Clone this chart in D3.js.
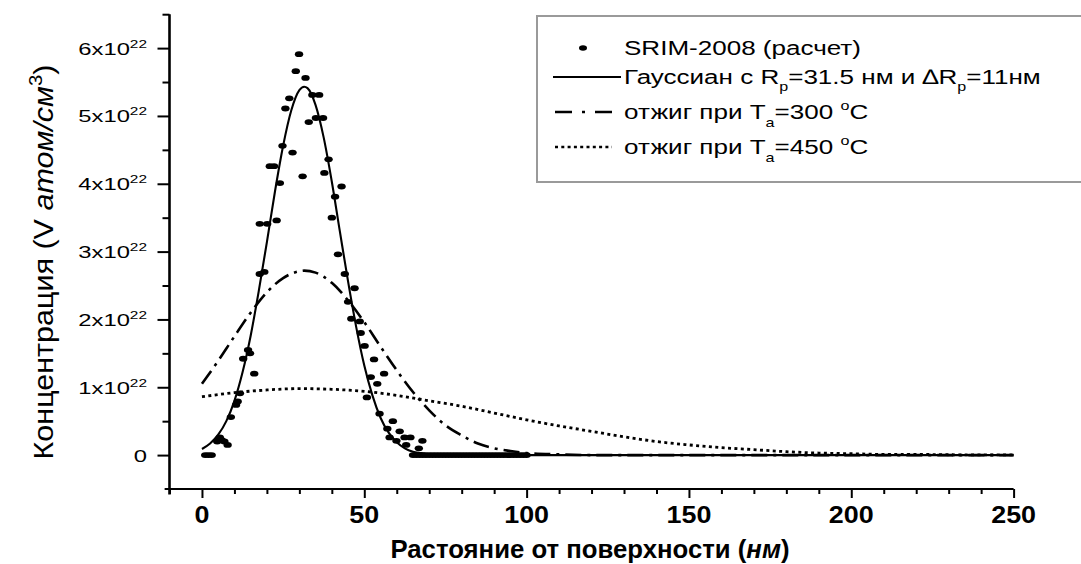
<!DOCTYPE html>
<html><head><meta charset="utf-8">
<script src="https://cdn.jsdelivr.net/npm/d3@7"></script>
<style>body{margin:0;background:#fff;overflow:hidden}svg{display:block}</style>
</head><body>
<script>
// ---- data (concentration in units of 1e22 atoms/cm^3, depth in nm) ----
const srimX = [1,2,3,4.7,5.5,6.1,6.9,7.9,8.9,10.5,11.0,11.7,12.7,14.2,14.8,16.1,17.8,19.2,17.8,20.1,20.9,22.2,23.0,24.0,24.8,25.7,26.9,27.9,28.9,29.9,31.0,31.9,32.9,34.0,35.1,36.1,37.3,37.7,39.0,40.0,41.0,41.9,43.0,44.0,45.0,46.0,47.0,48.6,48.9,50.1,50.8,52.0,53.0,54.0,54.7,56.1,57.1,57.8,58.8,59.9,60.9,62.4,62.9,64.2,66.8,67.9,
  65,66,67,68,69,70,71,72,73,74,75,76,77,78,79,80,81,82,83,84,85,86,87,88,89,90,91,92,93,94,95,96,97,98,99,100];
const srimY = [0,0,0,0.20,0.26,0.22,0.20,0.15,0.56,0.74,0.79,0.91,1.42,1.55,1.50,1.20,2.67,2.70,3.41,3.41,4.26,4.26,3.46,4.01,4.56,5.11,5.26,4.46,5.66,5.91,4.11,5.56,4.91,5.31,4.97,5.31,4.97,4.16,4.36,3.50,3.81,2.96,3.96,2.67,2.26,2.01,2.46,1.97,1.80,1.61,0.85,1.15,1.41,1.05,0.61,1.20,0.39,0.26,0.50,0.21,0.35,0.26,0.15,0.26,0.10,0.21,
  0,0,0,0,0,0,0,0,0,0,0,0,0,0,0,0,0,0,0,0,0,0,0,0,0,0,0,0,0,0,0,0,0,0,0,0];

const gaussX = [0,2.5,5,7.5,10,12.5,15,17.5,20,22.5,25,27.5,30,31.5,32.5,35,37.5,40,42.5,45,47.5,50,52.5,55,57.5,60,62.5,65,67.5,70,75,80,100,150,200,250];
const gaussY = [0.09,0.17,0.30,0.50,0.80,1.22,1.76,2.42,3.14,3.89,4.56,5.08,5.38,5.43,5.41,5.16,4.68,4.03,3.29,2.56,1.89,1.32,0.88,0.55,0.33,0.19,0.10,0.05,0.03,0.01,0.00,0,0,0,0,0];

const anneal300X = [0,5,10,15,20,25,30,31.5,35,40,45,50,55,60,65,70,75,80,85,90,95,100,110,120,150,200,250];
const anneal300Y = [1.05,1.39,1.75,2.10,2.40,2.61,2.71,2.72,2.69,2.54,2.28,1.96,1.60,1.25,0.93,0.66,0.44,0.29,0.17,0.10,0.06,0.03,0.01,0,0,0,0];

const anneal450X = [0,10,20,30,40,50,60,70,80,90,100,110,120,130,140,150,160,170,180,190,200,210,220,230,240,250];
const anneal450Y = [0.86,0.92,0.96,0.98,0.97,0.94,0.88,0.80,0.72,0.62,0.52,0.43,0.35,0.27,0.20,0.15,0.11,0.08,0.05,0.03,0.02,0.01,0.01,0.005,0.003,0.002];

const xTicks = [0,50,100,150,200,250];
const xMinor = [-10,10,20,30,40,60,70,80,90,110,120,130,140,160,170,180,190,210,220,230,240];
const yTicks = [0,1,2,3,4,5,6];
const yTickLabels = ["0","1x10","2x10","3x10","4x10","5x10","6x10"];
const yMinor = [0.5,1.5,2.5,3.5,4.5,5.5,6.5];

const W = 1081, H = 564;
const FONT = "'Liberation Sans', Arial, sans-serif";
const svg = d3.select("body").append("svg").attr("width", W).attr("height", H)
  .style("background", "#fff");

const x = d3.scaleLinear().domain([-10, 250]).range([169.5, 1013.6]);
const y = d3.scaleLinear().domain([-0.5, 6.5]).range([489, 14.2]);

// ---- curves ----
const line = d3.line().x(d => x(d[0])).y(d => y(d[1])).curve(d3.curveMonotoneX);
const zip = (a, b) => a.map((v, i) => [v, b[i]]);

svg.append("path").datum(zip(anneal450X, anneal450Y)).attr("d", line)
  .attr("fill", "none").attr("stroke", "#000").attr("stroke-width", 2.8)
  .attr("stroke-dasharray", "3,3.4");
svg.append("path").datum(zip(anneal300X, anneal300Y)).attr("d", line)
  .attr("fill", "none").attr("stroke", "#000").attr("stroke-width", 2.6)
  .attr("stroke-dasharray", "16,6,3,6");
svg.append("path").datum(zip(gaussX, gaussY)).attr("d", line)
  .attr("fill", "none").attr("stroke", "#000").attr("stroke-width", 2.1);

// ---- SRIM points ----
svg.append("g").selectAll("ellipse").data(zip(srimX, srimY)).join("ellipse")
  .attr("cx", d => x(d[0])).attr("cy", d => y(d[1]))
  .attr("rx", 4.2).attr("ry", 2.9).attr("fill", "#000");

// ---- axes ----
const gx = svg.append("g").attr("transform", `translate(0,${y(-0.5)})`);
gx.call(d3.axisBottom(x).tickValues(xTicks).tickSize(9).tickSizeOuter(0).tickFormat(""));
const gxm = svg.append("g").attr("transform", `translate(0,${y(-0.5)})`);
gxm.call(d3.axisBottom(x).tickValues(xMinor).tickSize(5).tickSizeOuter(0).tickFormat(""));
gxm.select(".domain").remove();
const gy = svg.append("g").attr("transform", `translate(${x(-10)},0)`);
gy.call(d3.axisLeft(y).tickValues(yTicks).tickSize(12).tickSizeOuter(0).tickFormat(""));
const gym = svg.append("g").attr("transform", `translate(${x(-10)},0)`);
gym.call(d3.axisLeft(y).tickValues(yMinor).tickSize(7).tickSizeOuter(0).tickFormat(""));
gym.select(".domain").remove();
[gx, gxm, gy, gym].forEach(g => {
  g.selectAll("path,line").attr("stroke", "#000").attr("stroke-width", 2);
});
gy.select(".domain").attr("stroke-width", 2.6).attr("d", `M0,${y(-0.58)}V${y(6.5)}`);
gx.select(".domain").attr("d", `M${x(-11.5)},0H${x(250)}`);

// helper for horizontally stretched text
function stext(px, py, sx, opts) {
  const g = svg.append("g").attr("transform", `translate(${px},${py}) scale(${sx},1)`);
  const t = g.append("text").attr("font-family", FONT)
    .attr("font-size", opts.size).attr("text-anchor", opts.anchor || "start")
    .attr("font-weight", opts.weight || "normal").attr("fill", "#000");
  return t;
}

// x tick labels
xTicks.forEach(v => {
  stext(x(v), 523, 1.12, {size: 24, weight: "bold", anchor: "middle"}).text(v);
});
// y tick labels
yTicks.forEach((v, i) => {
  const t = stext(147, y(v) + 6.5, 1.4, {size: 17, anchor: "end"});
  if (v === 0) { t.text(yTickLabels[i]); return; }
  t.append("tspan").text(yTickLabels[i]);
  t.append("tspan").attr("font-size", 11).attr("dy", -7).text("22");
});

// axis titles
{
  const t = stext(590, 558, 1.03, {size: 25, weight: "bold", anchor: "middle"});
  t.append("tspan").text("Растояние от поверхности (");
  t.append("tspan").attr("font-style", "italic").text("нм");
  t.append("tspan").text(")");
}
{
  const g = svg.append("g").attr("transform", "translate(53,262) rotate(-90) scale(1.13,1)");
  const t = g.append("text").attr("font-family", FONT).attr("font-size", 27)
    .attr("text-anchor", "middle").attr("fill", "#000");
  t.append("tspan").text("Концентрация (V ");
  t.append("tspan").attr("font-style", "italic").text("атом/см");
  t.append("tspan").attr("font-size", 18).attr("dy", -11).text("3");
  t.append("tspan").attr("dy", 11).text(")");
}

// ---- legend ----
svg.append("rect").attr("x", 537).attr("y", 16).attr("width", 560).attr("height", 166)
  .attr("fill", "#fff").attr("stroke", "#9a9a9a").attr("stroke-width", 2);
svg.append("ellipse").attr("cx", 583).attr("cy", 48).attr("rx", 4).attr("ry", 2.8).attr("fill", "#000");
svg.append("line").attr("x1", 553).attr("x2", 621).attr("y1", 77).attr("y2", 77)
  .attr("stroke", "#000").attr("stroke-width", 2);
svg.append("line").attr("x1", 555).attr("x2", 612).attr("y1", 112).attr("y2", 112)
  .attr("stroke", "#000").attr("stroke-width", 2.7).attr("stroke-dasharray", "17,10,3,10");
svg.append("line").attr("x1", 555).attr("x2", 612).attr("y1", 147).attr("y2", 147)
  .attr("stroke", "#000").attr("stroke-width", 2.6).attr("stroke-dasharray", "3,3.3");

const LX = 624, LS = 1.24, LF = 21;
stext(LX, 55, LS, {size: LF}).text("SRIM-2008 (расчет)");
{
  const t = stext(LX, 84, LS, {size: LF});
  t.append("tspan").text("Гауссиан с R");
  t.append("tspan").attr("font-size", 13).attr("dy", 7).text("p");
  t.append("tspan").attr("dy", -7).text("=31.5 нм и ∆R");
  t.append("tspan").attr("font-size", 13).attr("dy", 7).text("p");
  t.append("tspan").attr("dy", -7).text("=11нм");
}
[["300", 119], ["450", 154]].forEach(([T, by]) => {
  const t = stext(LX, by, LS, {size: LF});
  t.append("tspan").text("отжиг при T");
  t.append("tspan").attr("font-size", 13).attr("dy", 8).text("a");
  t.append("tspan").attr("dy", -8).text("=" + T + " ");
  t.append("tspan").attr("font-size", 13).attr("dy", -9).text("o");
  t.append("tspan").attr("dy", 9).text("C");
});
</script>
</body></html>
